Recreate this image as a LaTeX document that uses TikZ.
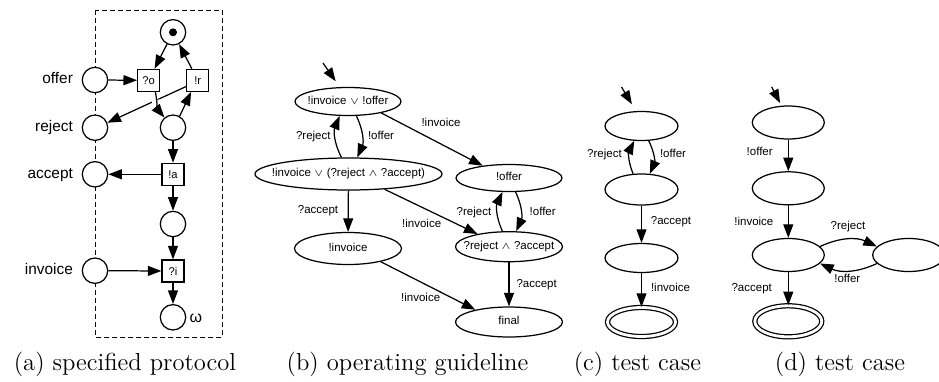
\documentclass[tikz,border=0pt]{standalone}
\usepackage{fontspec}
\newfontfamily\lsans{Liberation Sans}
\usetikzlibrary{arrows.meta,shapes.geometric}

\begin{document}
\begin{tikzpicture}[x=0.5pt,y=0.5pt,
  line width=0.62pt,
  >={Triangle[length=6.8pt,width=5pt]},
  every node/.style={inner sep=0pt},
  place/.style={circle,draw,fill=white,minimum size=12.7pt},
  trans/.style={rectangle,draw,fill=white,minimum size=11pt,
    font=\lsans\fontsize{5.6}{6}\selectfont},
  pname/.style={font=\lsans\fontsize{7.7}{9}\selectfont,anchor=east,
    text height=5.5pt,text depth=1.6pt},
  elab/.style={font=\lsans\fontsize{5.75}{7}\selectfont,
    text height=4.1pt,text depth=1.2pt},
  state/.style={ellipse,draw,font=\lsans\fontsize{5.75}{7}\selectfont,
    text height=4.1pt,text depth=1.2pt,
    execute at begin node={\hbox to 0pt\bgroup\hss},
    execute at end node={\hss\egroup}},
  final/.style={state,double,double distance=1.4pt},
  caption/.style={font=\fontsize{12.3}{15}\selectfont,anchor=base}]

\useasboundingbox (0,0) rectangle (939,-381);

% ---------- (a) the protocol as an open net ----------
\draw[line width=0.5pt,dash pattern=on 2.5pt off 1.5pt] (95,-10) rectangle (222,-337);

\node[place] (p0) at (173,-32.3) {};
\fill (p0.center) circle (2pt);
\node[trans] (t1) at (148.7,-80.3) {?o};
\node[trans] (t2) at (197.8,-80.3) {!r};
\node[place] (poffer) at (95,-80) {};
\node[place] (preject) at (95,-127.7) {};
\node[place] (pmid) at (173,-127.7) {};
\node[trans] (t3) at (173,-174.3) {!a};
\node[place] (paccept) at (95,-174.3) {};
\node[place] (p4) at (173,-224) {};
\node[trans] (t4) at (173,-271) {?i};
\node[place] (pinv) at (95,-270.7) {};
\node[place] (pw) at (173,-317.3) {};
\node[anchor=west,font=\lsans\fontsize{8}{9}\selectfont] (wlab) at (189,-318) {ω};

\node[pname] (loffer) at (73.5,-80) {offer};
\node[pname] (lreject) at (73.5,-127.7) {reject};
\node[pname] (laccept) at (73.5,-174.3) {accept};
\node[pname] (linv) at (73.5,-270.7) {invoice};

\draw[->] (poffer) -- (t1);
\draw[->] (p0) -- (t1);
\draw[->] (t2) -- (p0);
\draw[->] (t2.208) -- (preject.22);
% the arc from ?o passes over the reject arc
\draw[white,line width=5pt,shorten <=4pt,shorten >=7pt] (t1.-60) to[out=-80,in=130] (pmid.130);
\draw[->] (t1.-60) to[out=-80,in=130] (pmid.130);
\draw[->] (pmid.60) -- (t2.-120);
\draw[->] (pmid) -- (t3);
\draw[->] (t3) -- (paccept);
\draw[->] (t3) -- (p4);
\draw[->] (p4) -- (t4);
\draw[->] (pinv) -- (t4);
\draw[->] (t4) -- (pw);

% ---------- (b) operating guideline ----------
\node[state,minimum width=53pt,minimum height=14pt] (n1) at (348,-101.5) {!invoice $\scriptstyle\vee$ !offer};
\node[state,minimum width=93.5pt,minimum height=16pt] (n2) at (348.5,-174) {!invoice $\scriptstyle\vee$ (?reject $\scriptstyle\wedge$ ?accept)};
\node[state,minimum width=53.5pt,minimum height=16pt] (n3) at (348,-248.5) {!invoice};
\node[state,minimum width=53pt,minimum height=13.5pt] (n4) at (509,-178) {!offer};
\node[state,minimum width=53.5pt,minimum height=15pt] (n5) at (509,-246.7) {?reject $\scriptstyle\wedge$ ?accept};
\node[state,minimum width=53.5pt,minimum height=15pt] (n6) at (509,-322) {final};

\coordinate (ib) at (323,-63);
\draw[->,shorten >=3.5pt] (ib) -- (n1.120);
\draw[->] (n1.-60) to[bend left=25] (n2.62);
\draw[->] (n2.113) to[bend left=25] (n1.-120);
\draw[->] (n1.-19) -- (n4.155);
\draw[->] (n2) -- (n3);
\draw[->] (n2.-23) -- (n5.158);
\draw[->] (n3.-22) -- (n6.160);
\draw[->] (n5.113) to[bend left=25] (n4.-115);
\draw[->] (n4.-65) to[bend left=25] (n5.65);
\draw[->] (n5) -- (n6);

\node[elab] (lb1) at (381,-136.7) {!offer};
\node[elab] (lb2) at (313.3,-136.7) {?reject};
\node[elab] (lb3) at (441,-123.3) {!invoice};
\node[elab] (lb4) at (318,-211) {?accept};
\node[elab] (lb5) at (421.7,-225) {!invoice};
\node[elab] (lb6) at (420.7,-299) {!invoice};
\node[elab] (lb7) at (474,-212.3) {?reject};
\node[elab] (lb8) at (542.7,-212.3) {!offer};
\node[elab] (lb9) at (536.7,-285) {?accept};

% ---------- (c) test case ----------
\node[state,minimum width=36.5pt,minimum height=14.5pt] (c1) at (641.5,-126) {};
\node[state,minimum width=36.5pt,minimum height=15.5pt] (c2) at (641.5,-189.5) {};
\node[state,minimum width=36.5pt,minimum height=14.5pt] (c3) at (641.5,-258) {};
\node[final,minimum width=34pt,minimum height=14.5pt] (c4) at (641.5,-322) {};

\coordinate (ic) at (621.5,-87);
\draw[->,shorten >=4pt] (ic) -- (c1.110);
\draw[->] (c1.-64) to[bend left=25] (c2.62);
\draw[->] (c2.118) to[bend left=25] (c1.-116);
\draw[->] (c2) -- (c3);
\draw[->] (c3) -- (c4);

\node[elab] (lc1) at (604.5,-155) {?reject};
\node[elab] (lc2) at (673,-155) {!offer};
\node[elab] (lc3) at (671,-221.7) {?accept};
\node[elab] (lc4) at (670.5,-288.3) {!invoice};

% ---------- (d) test case ----------
\node[state,minimum width=36pt,minimum height=16.5pt] (d1) at (788.3,-122.5) {};
\node[state,minimum width=36pt,minimum height=16.5pt] (d2) at (788.3,-188.3) {};
\node[state,minimum width=36pt,minimum height=16.5pt] (d3) at (788.3,-255) {};
\node[final,minimum width=33.5pt,minimum height=15.5pt] (d4) at (788.3,-321.3) {};
\node[state,minimum width=36pt,minimum height=16.5pt] (d5) at (908.7,-255) {};

\coordinate (id) at (771.7,-87);
\draw[->,shorten >=1.5pt] (id) -- (d1.112);
\draw[->] (d1) -- (d2);
\draw[->] (d2) -- (d3);
\draw[->] (d3) -- (d4);
\draw[->] (d3.15) to[bend left=25] (d5.165);
\draw[->] (d5.195) to[bend left=25] (d3.-15);

\node[elab,anchor=east] (ld1) at (773.3,-153) {!offer};
\node[elab,anchor=east] (ld2) at (774,-222.3) {!invoice};
\node[elab,anchor=east] (ld3) at (772.5,-288.3) {?accept};
\node[elab] (ld4) at (848,-226.7) {?reject};
\node[elab] (ld5) at (847.3,-279.3) {!offer};

% ---------- captions ----------
\node[caption] (capa) at (125,-370) {(a) specified protocol};
\node[caption] (capb) at (407.5,-370) {(b) operating guideline};
\node[caption] (capc) at (637.5,-370) {(c) test case};
\node[caption] (capd) at (840,-370) {(d) test case};
\end{tikzpicture}
\end{document}
